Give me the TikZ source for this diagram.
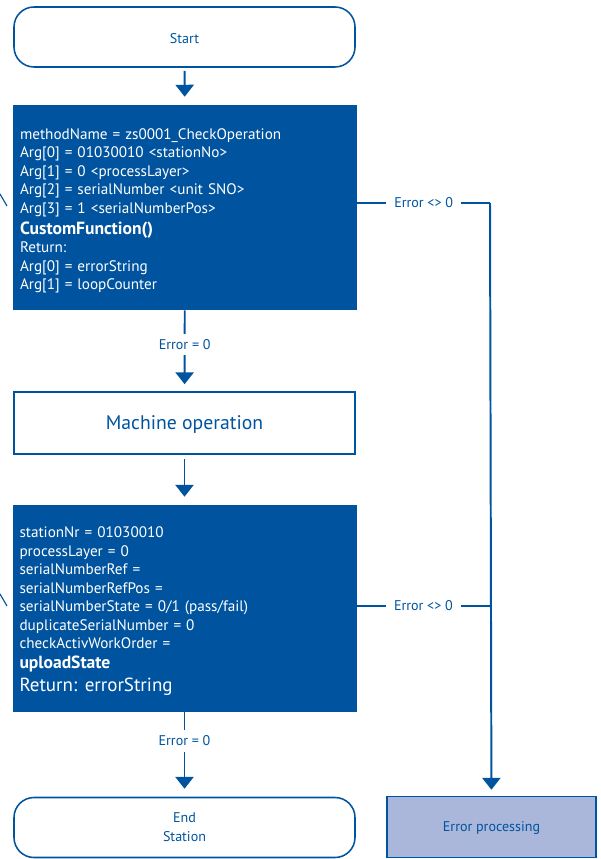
\documentclass[tikz,border=0pt]{standalone}
\usepackage{fontspec}
\setmainfont{PT Sans}
\usetikzlibrary{arrows.meta}
\definecolor{darkblue}{RGB}{0,84,159}
\definecolor{errfill}{RGB}{170,182,218}
\tikzset{
  term/.style={draw=darkblue, line width=1.1pt, rounded corners=0.5cm, minimum width=341*0.025cm, minimum height=60*0.025cm, text=darkblue, align=center, font=\fontsize{10}{13.5}\selectfont},
  codebox/.style={fill=darkblue, text=white, text width=330*0.025cm, inner xsep=7*0.025cm, align=left, font=\fontsize{10.8}{13.1}\selectfont},
  opbox/.style={draw=darkblue, line width=1.1pt, minimum width=341*0.025cm, minimum height=62*0.025cm, text=darkblue, font=\fontsize{14}{16}\selectfont},
  errbox/.style={draw=darkblue, fill=errfill, line width=1.1pt, minimum width=209*0.025cm, minimum height=61*0.025cm, text=darkblue, font=\fontsize{10}{12}\selectfont},
  flow/.style={draw=darkblue, line width=1.4pt},
  tip/.style={-{Triangle[width=13pt,length=8.5pt]}},
  cond/.style={fill=white, text=darkblue, inner xsep=6pt, inner ysep=4pt, font=\fontsize{10}{12}\selectfont}
}
\begin{document}
\begin{tikzpicture}[x=0.025cm,y=-0.025cm]
  %\draw [help lines] (0,0) grid (600,859);
  \useasboundingbox (0,0) rectangle (600,859);

  \node (start) [term] at (184.5,37) {\rule{0pt}{9.5pt}Start};
  \node (check) [codebox, minimum height=205*0.025cm] at (185,207.5) {%
    \rule{0pt}{12.6pt}methodName = zs0001\_CheckOperation\\
    Arg[0] = 01030010 <stationNo>\\
    Arg[1] = 0 <processLayer>\\
    Arg[2] = serialNumber <unit SNO>\\
    Arg[3] = 1 <serialNumberPos>\\[2pt]
    {\fontsize{12.5}{15.5}\selectfont\bfseries CustomFunction()}\\
    Return:\\
    Arg[0] = errorString\\
    Arg[1] = loopCounter};
  \node (machine) [opbox] at (184.5,423) {\rule{0pt}{12.5pt}Machine operation};
  \node (upload) [codebox, minimum height=207*0.025cm] at (184.5,608.5) {%
    \rule{0pt}{11.8pt}stationNr = 01030010\\
    processLayer = 0\\
    serialNumberRef =\\
    serialNumberRefPos =\\
    serialNumberState = 0/1 (pass/fail)\\
    duplicateSerialNumber = 0\\
    checkActivWorkOrder =\\[1.5pt]
    {\fontsize{12.5}{15.5}\selectfont\bfseries uploadState}\\[3pt]
    {\fontsize{13.5}{16}\selectfont Return: errorString}};
  \node (stop) [term] at (184.5,827.5) {End\\Station};
  \node (error) [errbox] at (491.5,827) {\rule{0pt}{8.5pt}Error processing};

  \coordinate (e1) at (490,203);
  \coordinate (e2) at (490,606);

  % main flow
  \draw[flow,tip,shorten <=3*0.025cm,shorten >=8*0.025cm] (start) -- (check);
  \draw[flow,tip,shorten >=7*0.025cm] (check) -- node[cond,pos=0.42] {Error = 0} (machine);
  \draw[flow,tip,shorten <=4*0.025cm,shorten >=8*0.025cm] (machine) -- (upload);
  \draw[flow,tip,shorten >=8*0.025cm] (upload) -- node[cond,pos=0.34] {Error = 0} (stop);

  % error branch
  \draw[flow] (check.east |- e1) -- node[cond] {Error <> 0} (e1);
  \draw[flow] (upload.east |- e2) -- node[cond] {Error <> 0} (e2);
  \draw[flow,tip,shorten >=6*0.025cm] (e1) -- (error);

  % cut-off strokes at the left edge
  \draw[darkblue,line width=0.8pt] (0,194) -- (7,206);
  \draw[darkblue,line width=0.8pt] (0,594) -- (7,606);
\end{tikzpicture}
\end{document}
